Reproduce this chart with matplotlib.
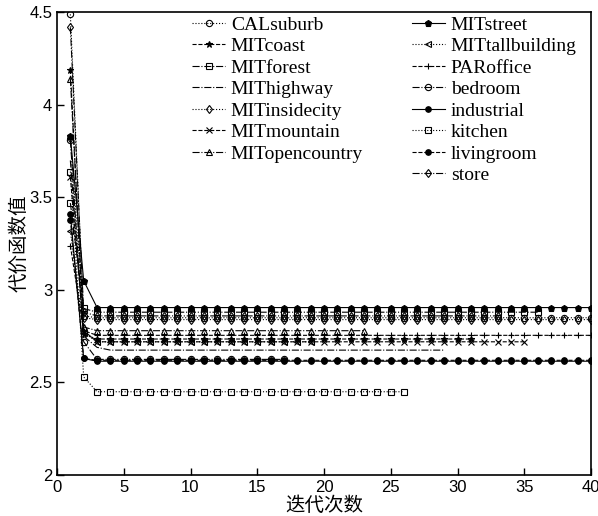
"""Cost function value versus iteration count for 15 scene categories."""

import matplotlib

matplotlib.use("Agg")
import matplotlib.pyplot as plt
from matplotlib.lines import Line2D
from matplotlib.ticker import FormatStrFormatter, MultipleLocator

series_names = [
    "CALsuburb", "MITcoast", "MITforest", "MIThighway", "MITinsidecity",
    "MITmountain", "MITopencountry", "MITstreet", "MITtallbuilding",
    "PARoffice", "bedroom", "industrial", "kitchen", "livingroom", "store",
]

# values of the first iterations
head_values = [
    [4.49, 2.86],
    [4.19, 2.76],
    [3.47, 2.90],
    [3.70, 2.75, 2.69],
    [3.82, 2.85],
    [3.61, 2.78],
    [4.14, 2.80],
    [3.83, 3.05],
    [3.32, 2.77],
    [3.24, 2.78],
    [3.81, 2.72],
    [3.41, 2.63],
    [3.64, 2.53],
    [3.38, 2.63],
    [4.42, 2.88],
]
# level each curve settles on, and the last iteration drawn
plateau_values = [
    2.85, 2.735, 2.88, 2.675, 2.84, 2.72, 2.78, 2.905,
    2.72, 2.755, 2.625, 2.615, 2.45, 2.62, 2.86,
]
last_iteration = [40, 31, 36, 29, 40, 35, 23, 40, 19, 40, 17, 40, 26, 40, 33]

x_label = "迭代次数"
y_label = "代价函数值"

line_styles = [":", "--", "-.", "-.", ":", "--", "-.", "-", ":", "--", "-.", "-", ":", "--", "-."]
markers = ["o", "*", "s", "", "d", "x", "^", "p", "<", "+", "o", ".", "s", ".", "d"]
open_markers = {"o", "s", "d", "^", "<"}


def series_values(head, level, last):
    return head + [level] * (last - len(head))


fig = plt.figure(figsize=(5.98, 5.16), dpi=100)
ax = fig.add_axes([57 / 598, 41 / 516, 534 / 598, 462.5 / 516])

handles = []
for name, head, level, last, ls, mk in zip(
    series_names, head_values, plateau_values, last_iteration, line_styles, markers, strict=True
):
    y = series_values(head, level, last)
    x = list(range(1, len(y) + 1))
    (line,) = ax.plot(
        x, y,
        color="black",
        linestyle=ls,
        linewidth=0.8,
        marker=mk if mk else None,
        markersize=8 if mk == "." else 4.5,
        markerfacecolor="none" if mk in open_markers else "black",
        markeredgecolor="black",
        markeredgewidth=0.8,
        label=name,
    )
    handles.append(line)

ax.set_xlim(0, 40)
ax.set_ylim(2, 4.5)
ax.xaxis.set_major_locator(MultipleLocator(5))
ax.yaxis.set_major_locator(MultipleLocator(0.5))
ax.yaxis.set_major_formatter(FormatStrFormatter("%g"))
ax.tick_params(direction="in", length=5, width=1, labelsize=12, top=False, right=False)
for label in ax.get_xticklabels() + ax.get_yticklabels():
    label.set_family("Liberation Sans")
for spine in ax.spines.values():
    spine.set_linewidth(1.2)

ax.set_xlabel(x_label, fontsize=14, family=["Noto Sans CJK SC", "DejaVu Sans"], labelpad=0)
ax.set_ylabel(y_label, fontsize=14, family=["Noto Sans CJK SC", "DejaVu Sans"], labelpad=0)

# seven entries on the left, eight on the right
blank = Line2D([], [], linestyle="none", marker="none")
legend_handles = handles[:7] + [blank] + handles[7:]
legend_labels = series_names[:7] + [""] + series_names[7:]
fig.legend(
    legend_handles, legend_labels,
    loc="upper left",
    bbox_to_anchor=(192 / 598, 1 - 16 / 516),
    ncol=2,
    frameon=False,
    borderpad=0,
    borderaxespad=0,
    handlelength=1.7,
    handletextpad=0.3,
    columnspacing=2.5,
    labelspacing=0.2,
    prop={"family": "Liberation Serif", "size": 14},
)

fig.savefig("out.png", dpi=100)
